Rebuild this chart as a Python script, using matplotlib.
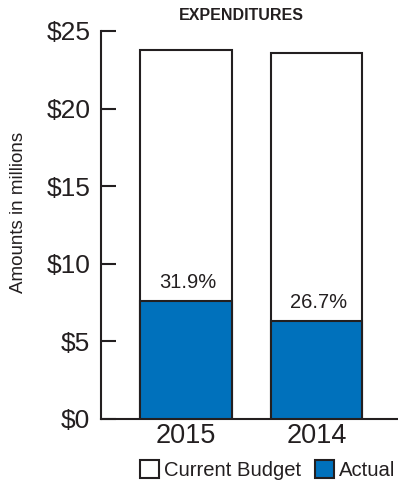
import matplotlib
matplotlib.use("Agg")
import matplotlib.pyplot as plt
from matplotlib.patches import Patch

plt.rcParams['font.family'] = ['Liberation Sans', 'DejaVu Sans']

years = ['2015', '2014']
budget = [23.8, 23.6]
actual = [7.6, 6.3]
pct_labels = ['31.9%', '26.7%']
yticks = [0, 5, 10, 15, 20, 25]
ytick_labels = ['$0', '$5', '$10', '$15', '$20', '$25']

TXT = '#231f20'
BLUE = '#0071bc'
EDGE = '#231f20'

fig = plt.figure(figsize=(3.98, 4.86), dpi=100)
ax = fig.add_axes([0.253, 0.1379, 0.747, 0.7984])

x = list(range(len(years)))
ax.bar(x, budget, width=0.7, color='white', edgecolor=EDGE, linewidth=1.5, zorder=2)
ax.bar(x, actual, width=0.7, color=BLUE, edgecolor=EDGE, linewidth=1.5, zorder=3)

for xi, a, lab in zip(x, actual, pct_labels):
    ax.annotate(lab, (xi, a), xytext=(1, 13.5), textcoords='offset points',
                ha='center', va='center', fontsize=14.5, color=TXT)

ax.set_xlim(-0.653, 1.622)
ax.set_ylim(0, 25)
ax.set_yticks(yticks)
ax.set_yticklabels(ytick_labels)
ax.set_xticks(x)
ax.set_xticklabels(years)

ax.tick_params(axis='y', direction='in', length=10.5, width=1.5, color=EDGE,
               pad=7.5, labelsize=19, labelcolor=TXT)
ax.tick_params(axis='x', length=0, pad=3, labelsize=19.5, labelcolor=TXT)

for s in ['top', 'right']:
    ax.spines[s].set_visible(False)
for s in ['left', 'bottom']:
    ax.spines[s].set_linewidth(1.5)
    ax.spines[s].set_color(EDGE)

fig.text(0.607, 0.969, 'EXPENDITURES', ha='center', va='center',
         fontsize=11.5, fontweight='bold', color=TXT)
fig.text(0.046, 0.562, 'Amounts in millions', rotation=90, ha='center', va='center',
         fontsize=13.5, color=TXT)

handles = [Patch(facecolor='white', edgecolor=EDGE, linewidth=1.5, label='Current Budget'),
           Patch(facecolor=BLUE, edgecolor=EDGE, linewidth=1.5, label='Actual')]
fig.legend(handles=handles, loc='center left', bbox_to_anchor=(0.352, 0.033), ncol=2,
           frameon=False, fontsize=14.6, handlelength=0.95, handleheight=0.95,
           handletextpad=0.22, columnspacing=0.7, borderpad=0, borderaxespad=0,
           labelcolor=TXT)

fig.savefig('out.png', dpi=100)
